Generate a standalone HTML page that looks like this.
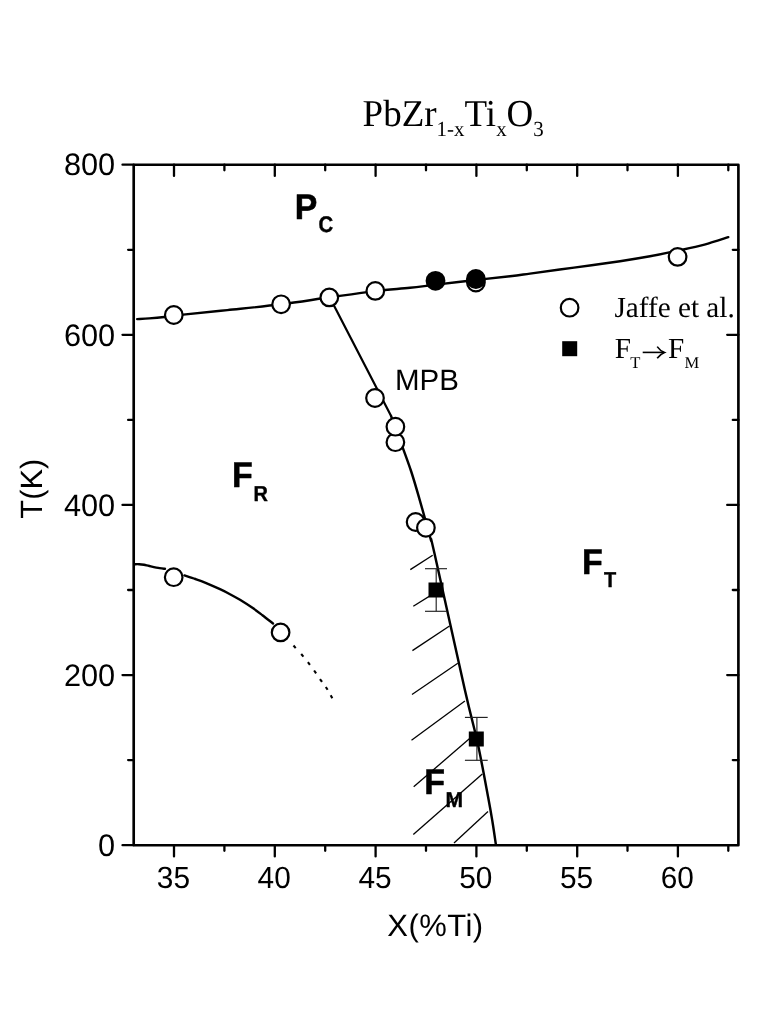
<!DOCTYPE html>
<html><head><meta charset="utf-8"><title>PbZr1-xTixO3 phase diagram</title>
<style>html,body{margin:0;padding:0;background:#fff;}body{width:781px;height:1023px;overflow:hidden;}svg{display:block;text-rendering:geometricPrecision;will-change:transform;filter:grayscale(1);}text{fill:#000;}.sans{font-family:"Liberation Sans",sans-serif;}.serif{font-family:"Liberation Serif",serif;}.b{font-weight:bold;}</style></head><body>
<svg width="781" height="1023" viewBox="0 0 781 1023">
<rect x="0" y="0" width="781" height="1023" fill="#fff"/>
<g fill="none" stroke="#000" stroke-width="2.4" stroke-linecap="round" stroke-linejoin="round">
<path d="M137.20 319.10 C139.20 318.98 144.68 318.75 149.20 318.40 C153.72 318.05 158.63 317.63 164.30 317.00 C169.97 316.37 172.68 315.75 183.20 314.60 C193.72 313.45 211.10 311.82 227.40 310.10 C243.70 308.38 263.93 306.43 281.00 304.30 C298.07 302.17 314.05 299.50 329.80 297.30 C345.55 295.10 362.13 292.68 375.50 291.10 C388.87 289.52 399.92 288.88 410.00 287.80 C420.08 286.72 425.00 285.90 436.00 284.60 C447.00 283.30 463.67 281.40 476.00 280.00 C488.33 278.60 501.00 277.27 510.00 276.20 C519.00 275.13 519.33 275.03 530.00 273.60 C540.67 272.17 559.00 269.67 574.00 267.60 C589.00 265.53 607.33 263.08 620.00 261.20 C632.67 259.32 640.40 258.05 650.00 256.30 C659.60 254.55 668.52 252.65 677.60 250.70 C686.68 248.75 696.05 246.85 704.50 244.60 C712.95 242.35 724.33 238.43 728.30 237.20"/>
<path stroke-width="2.2" d="M329.8 297.4 L391.1 416.1"/>
<path stroke-width="2.45" d="M391.10 416.10 C392.75 420.58 397.65 433.77 401.00 443.00 C404.35 452.23 408.13 462.20 411.20 471.50 C414.27 480.80 416.77 489.72 419.40 498.80 C422.03 507.88 425.08 519.13 427.00 526.00 C428.92 532.87 429.65 535.42 430.90 540.00 C432.15 544.58 428.83 528.50 434.50 553.50 C440.17 578.50 457.68 658.28 464.90 690.00 C472.12 721.72 473.92 725.88 477.80 743.80 C481.68 761.72 485.75 784.47 488.20 797.50 C490.65 810.53 491.23 814.25 492.50 822.00 C493.77 829.75 495.25 840.33 495.80 844.00"/>
<path d="M134.60 564.20 C135.35 564.20 137.53 564.10 139.10 564.20 C140.67 564.30 142.28 564.50 144.00 564.80 C145.72 565.10 146.80 565.45 149.40 566.00 C152.00 566.55 157.00 567.63 159.60 568.10 C162.20 568.57 164.10 568.68 165.00 568.80"/>
<path d="M184.40 575.40 C186.23 576.00 191.87 577.77 195.40 579.00 C198.93 580.23 201.50 581.10 205.60 582.80 C209.70 584.50 215.93 587.30 220.00 589.20 C224.07 591.10 226.67 592.43 230.00 594.20 C233.33 595.97 236.20 597.48 240.00 599.80 C243.80 602.12 249.07 605.53 252.80 608.10 C256.53 610.67 259.03 612.63 262.40 615.20 C265.77 617.77 271.23 622.12 273.00 623.50"/>
</g>
<g stroke="#000" stroke-width="2.1" fill="none">
<line x1="293.5" y1="645.5" x2="295.7" y2="648.1"/>
<line x1="301.2" y1="654.0" x2="303.4" y2="656.6"/>
<line x1="307.9" y1="662.2" x2="309.9" y2="664.8"/>
<line x1="314.1" y1="670.5" x2="316.1" y2="673.3"/>
<line x1="320.0" y1="679.1" x2="322.0" y2="681.9"/>
<line x1="325.8" y1="687.0" x2="327.6" y2="689.8"/>
<line x1="330.7" y1="695.3" x2="332.3" y2="698.3"/>
</g>
<g stroke="#000" stroke-width="1.3" fill="none">
<line x1="410.3" y1="569.6" x2="432.7" y2="555.2"/>
<line x1="413.3" y1="606.3" x2="440.0" y2="589.6"/>
<line x1="412.4" y1="650.6" x2="449.5" y2="626.0"/>
<line x1="412.0" y1="694.5" x2="457.8" y2="663.3"/>
<line x1="411.5" y1="740.2" x2="464.9" y2="701.1"/>
<line x1="413.7" y1="786.8" x2="476.0" y2="733.0"/>
<line x1="413.3" y1="834.6" x2="482.3" y2="773.9"/>
<line x1="454.0" y1="842.9" x2="488.0" y2="811.5"/>
</g>
<rect x="133.7" y="164.7" width="604.7" height="680.5" stroke="#000" stroke-width="2.65" fill="none" stroke-linejoin="round"/>
<g stroke="#000" stroke-width="2.3" fill="none" stroke-linecap="round">
<line x1="174.0" y1="845.2" x2="174.0" y2="856.4"/>
<line x1="174.0" y1="164.7" x2="174.0" y2="175.9"/>
<line x1="224.4" y1="845.2" x2="224.4" y2="850.8"/>
<line x1="224.4" y1="164.7" x2="224.4" y2="170.3"/>
<line x1="274.8" y1="845.2" x2="274.8" y2="856.4"/>
<line x1="274.8" y1="164.7" x2="274.8" y2="175.9"/>
<line x1="325.2" y1="845.2" x2="325.2" y2="850.8"/>
<line x1="325.2" y1="164.7" x2="325.2" y2="170.3"/>
<line x1="375.6" y1="845.2" x2="375.6" y2="856.4"/>
<line x1="375.6" y1="164.7" x2="375.6" y2="175.9"/>
<line x1="426.0" y1="845.2" x2="426.0" y2="850.8"/>
<line x1="426.0" y1="164.7" x2="426.0" y2="170.3"/>
<line x1="476.4" y1="845.2" x2="476.4" y2="856.4"/>
<line x1="476.4" y1="164.7" x2="476.4" y2="175.9"/>
<line x1="526.8" y1="845.2" x2="526.8" y2="850.8"/>
<line x1="526.8" y1="164.7" x2="526.8" y2="170.3"/>
<line x1="577.2" y1="845.2" x2="577.2" y2="856.4"/>
<line x1="577.2" y1="164.7" x2="577.2" y2="175.9"/>
<line x1="627.5" y1="845.2" x2="627.5" y2="850.8"/>
<line x1="627.5" y1="164.7" x2="627.5" y2="170.3"/>
<line x1="677.9" y1="845.2" x2="677.9" y2="856.4"/>
<line x1="677.9" y1="164.7" x2="677.9" y2="175.9"/>
<line x1="728.3" y1="845.2" x2="728.3" y2="850.8"/>
<line x1="728.3" y1="164.7" x2="728.3" y2="170.3"/>
<line x1="122.5" y1="845.2" x2="133.7" y2="845.2"/>
<line x1="128.1" y1="760.1" x2="133.7" y2="760.1"/>
<line x1="732.8" y1="760.1" x2="738.4" y2="760.1"/>
<line x1="122.5" y1="675.1" x2="133.7" y2="675.1"/>
<line x1="727.2" y1="675.1" x2="738.4" y2="675.1"/>
<line x1="128.1" y1="590.0" x2="133.7" y2="590.0"/>
<line x1="732.8" y1="590.0" x2="738.4" y2="590.0"/>
<line x1="122.5" y1="504.9" x2="133.7" y2="504.9"/>
<line x1="727.2" y1="504.9" x2="738.4" y2="504.9"/>
<line x1="128.1" y1="419.9" x2="133.7" y2="419.9"/>
<line x1="732.8" y1="419.9" x2="738.4" y2="419.9"/>
<line x1="122.5" y1="334.8" x2="133.7" y2="334.8"/>
<line x1="727.2" y1="334.8" x2="738.4" y2="334.8"/>
<line x1="128.1" y1="249.8" x2="133.7" y2="249.8"/>
<line x1="732.8" y1="249.8" x2="738.4" y2="249.8"/>
<line x1="122.5" y1="164.7" x2="133.7" y2="164.7"/>
</g>
<circle cx="173.8" cy="315.0" r="8.8" fill="#fff" stroke="#000" stroke-width="2.2"/>
<circle cx="281.1" cy="304.3" r="8.8" fill="#fff" stroke="#000" stroke-width="2.2"/>
<circle cx="329.3" cy="297.4" r="8.8" fill="#fff" stroke="#000" stroke-width="2.2"/>
<circle cx="375.3" cy="290.9" r="8.8" fill="#fff" stroke="#000" stroke-width="2.2"/>
<circle cx="475.9" cy="282.5" r="8.8" fill="#fff" stroke="#000" stroke-width="2.2"/>
<circle cx="677.6" cy="256.9" r="8.8" fill="#fff" stroke="#000" stroke-width="2.2"/>
<circle cx="435.5" cy="280.8" r="9.9" fill="#000"/>
<circle cx="475.9" cy="279.0" r="9.9" fill="#000"/>
<circle cx="375.0" cy="398.0" r="8.8" fill="#fff" stroke="#000" stroke-width="2.2"/>
<circle cx="395.4" cy="442.2" r="8.8" fill="#fff" stroke="#000" stroke-width="2.2"/>
<circle cx="395.4" cy="426.7" r="8.8" fill="#fff" stroke="#000" stroke-width="2.2"/>
<circle cx="415.6" cy="522.0" r="8.8" fill="#fff" stroke="#000" stroke-width="2.2"/>
<circle cx="425.9" cy="527.8" r="8.8" fill="#fff" stroke="#000" stroke-width="2.2"/>
<circle cx="173.7" cy="577.2" r="8.8" fill="#fff" stroke="#000" stroke-width="2.2"/>
<circle cx="280.6" cy="632.4" r="8.8" fill="#fff" stroke="#000" stroke-width="2.2"/>
<g stroke="#222" stroke-width="1.15"><line x1="436.2" y1="568.7" x2="436.2" y2="611.3"/><line x1="425.0" y1="568.7" x2="447.0" y2="568.7"/><line x1="425.0" y1="611.3" x2="447.0" y2="611.3"/></g>
<rect x="428.5" y="582.5" width="15.0" height="15.0" fill="#000"/>
<g stroke="#222" stroke-width="1.15"><line x1="476.9" y1="717.4" x2="476.9" y2="760.3"/><line x1="464.9" y1="717.4" x2="487.7" y2="717.4"/><line x1="464.9" y1="760.3" x2="487.7" y2="760.3"/></g>
<rect x="468.8" y="731.5" width="15.0" height="15.0" fill="#000"/>
<circle cx="569.6" cy="307.7" r="8.8" fill="#fff" stroke="#000" stroke-width="2.2"/>
<rect x="562.2" y="341.2" width="15.0" height="15.0" fill="#000"/>
<text class="sans" font-size="31.0" transform="translate(115.2,855.9) scale(0.99,1)" text-anchor="end">0</text>
<text class="sans" font-size="31.0" transform="translate(115.2,685.8) scale(0.99,1)" text-anchor="end">200</text>
<text class="sans" font-size="31.0" transform="translate(115.2,515.6) scale(0.99,1)" text-anchor="end">400</text>
<text class="sans" font-size="31.0" transform="translate(115.2,345.5) scale(0.99,1)" text-anchor="end">600</text>
<text class="sans" font-size="31.0" transform="translate(115.2,175.4) scale(0.99,1)" text-anchor="end">800</text>
<text class="sans" font-size="30.6" transform="translate(173.4,887.5) scale(0.975,1)" text-anchor="middle">35</text>
<text class="sans" font-size="30.6" transform="translate(274.2,887.5) scale(0.975,1)" text-anchor="middle">40</text>
<text class="sans" font-size="30.6" transform="translate(375.0,887.5) scale(0.975,1)" text-anchor="middle">45</text>
<text class="sans" font-size="30.6" transform="translate(475.8,887.5) scale(0.975,1)" text-anchor="middle">50</text>
<text class="sans" font-size="30.6" transform="translate(576.6,887.5) scale(0.975,1)" text-anchor="middle">55</text>
<text class="sans" font-size="30.6" transform="translate(677.3,887.5) scale(0.975,1)" text-anchor="middle">60</text>
<text class="sans" font-size="31.0" x="435.5" y="936.3" text-anchor="middle" letter-spacing="0.45">X(%Ti)</text>
<text class="sans" font-size="30.8" transform="translate(41.9,488.7) rotate(-90)" text-anchor="middle">T(K)</text>
<text class="sans" font-size="29.5" x="395.0" y="389.9">MPB</text>
<text class="serif" font-size="38" transform="translate(362.6,125.6) scale(0.974,1)">PbZr<tspan font-size="21.5" dy="10.4">1-x</tspan><tspan dy="-10.4">Ti</tspan><tspan font-size="21.5" dy="10.4">x</tspan><tspan dy="-10.4">O</tspan><tspan font-size="21.5" dy="10.4">3</tspan></text>
<text class="sans b" font-size="35.6" stroke="#000" stroke-width="0.55" stroke-linejoin="round" transform="translate(294.7,218.7) scale(0.950,1)">P</text>
<text class="sans b" font-size="22.6" stroke="#000" stroke-width="0.4" stroke-linejoin="round" transform="translate(318.6,231.8) scale(0.900,1)">C</text>
<text class="sans b" font-size="35.6" stroke="#000" stroke-width="0.55" stroke-linejoin="round" transform="translate(231.9,487.4) scale(0.955,1)">F</text>
<text class="sans b" font-size="21.5" stroke="#000" stroke-width="0.4" stroke-linejoin="round" transform="translate(253.6,500.5) scale(0.930,1)">R</text>
<text class="sans b" font-size="35.6" stroke="#000" stroke-width="0.55" stroke-linejoin="round" transform="translate(582.1,573.6) scale(0.955,1)">F</text>
<text class="sans b" font-size="21.5" stroke="#000" stroke-width="0.4" stroke-linejoin="round" transform="translate(604.0,586.6) scale(0.930,1)">T</text>
<text class="sans b" font-size="35.6" stroke="#000" stroke-width="0.55" stroke-linejoin="round" transform="translate(424.2,793.6) scale(0.955,1)">F</text>
<text class="sans b" font-size="21.5" stroke="#000" stroke-width="0.4" stroke-linejoin="round" transform="translate(445.5,806.5) scale(0.980,1)">M</text>
<text class="serif" font-size="29.2" x="614.5" y="317.1">Jaffe et al.</text>
<text class="serif" font-size="29.2" x="614.7" y="358.2">F</text>
<text class="serif" font-size="16.6" x="630.3" y="368.4">T</text>
<text class="serif" font-size="29.2" x="667.9" y="358.2">F</text>
<text class="serif" font-size="16.6" x="684.4" y="368.4">M</text>
<g fill="none" stroke="#000" stroke-width="1.6"><line x1="642.7" y1="352.4" x2="663.8" y2="352.4"/><path d="M657.2 346.6 Q659.9 350.6 664.5 352.4 Q659.9 354.2 657.2 358.2"/></g>
</svg></body></html>
